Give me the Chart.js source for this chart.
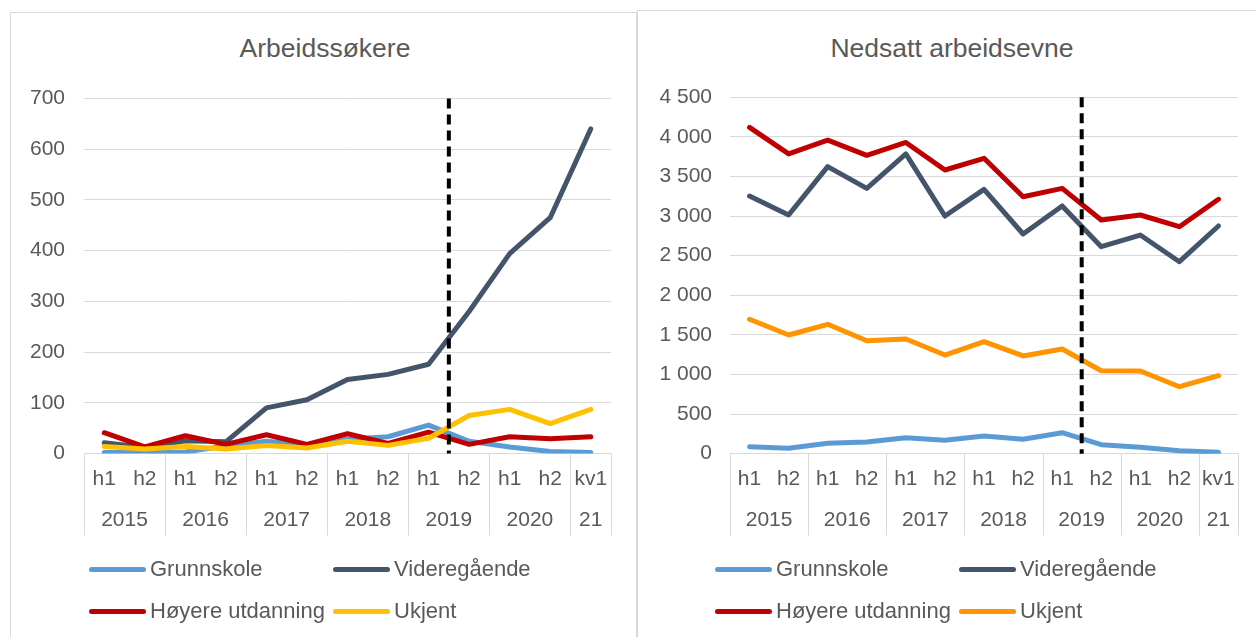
<!DOCTYPE html>
<html>
<head>
<meta charset="utf-8">
<script src="https://cdn.jsdelivr.net/npm/chart.js@4/dist/chart.umd.min.js"></script>
<style>
  html, body { margin: 0; padding: 0; background: #fff; overflow: hidden; }
  body { width: 1256px; height: 637px; position: relative; font-family: 'Liberation Sans', Arial, sans-serif; color: #595959; }
  .box { position: absolute; border: 1px solid #d9d9d9; box-sizing: border-box; }
  canvas { position: absolute; }
  .title { position: absolute; width: 500px; text-align: center; font-size: 26.5px; line-height: 30px; }
  .lg-line { position: absolute; height: 5px; width: 57px; border-radius: 3px; }
  .lg-text { position: absolute; font-size: 22px; line-height: 24px; white-space: nowrap; }
</style>
</head>
<body>
<div class="box" style="left:10px;top:12px;width:627px;height:700px"></div>
<div class="box" style="left:637px;top:10px;width:700px;height:700px"></div>

<div class="title" style="left:75px;top:33px">Arbeidssøkere</div>
<div class="title" style="left:702px;top:33px">Nedsatt arbeidsevne</div>

<canvas id="c1" width="626" height="624" style="left:10px;top:13px;width:626px;height:624px"></canvas>
<canvas id="c2" width="619" height="627" style="left:637px;top:10px;width:619px;height:627px"></canvas>

<div id="lg1"></div>
<div id="lg2"></div>

<script>
// ── Data ─────────────────────────────────────────────────────────────────────
const categories = ['h1', 'h2', 'h1', 'h2', 'h1', 'h2', 'h1', 'h2', 'h1', 'h2', 'h1', 'h2', 'kv1']
const years      = ['2015', '2016', '2017', '2018', '2019', '2020', '21']
const yearSpan   = [2, 2, 2, 2, 2, 2, 1]
const splitAt    = 9   // dashed line sits before this category

const seriesNames = ['Grunnskole', 'Videregående', 'Høyere utdanning', 'Ukjent']

// Arbeidssøkere
const grunnSoker   = [2, 2, 3, 15, 24, 17, 28, 33, 56, 24, 13, 4, 2]
const videreSoker  = [21, 12, 25, 23, 90, 106, 146, 156, 176, 280, 394, 465, 640]
const hoyereSoker  = [41, 13, 35, 18, 37, 18, 39, 20, 42, 18, 33, 29, 33]
const ukjentSoker  = [14, 9, 14, 9, 16, 11, 24, 16, 30, 75, 87, 59, 87]

// Nedsatt arbeidsevne
const grunnNedsatt  = [88, 68, 131, 148, 202, 169, 223, 182, 265, 114, 81, 38, 18]
const videreNedsatt = [3254, 3014, 3624, 3350, 3785, 3001, 3338, 2774, 3128, 2614, 2761, 2424, 2875]
const hoyereNedsatt = [4120, 3785, 3960, 3767, 3930, 3582, 3730, 3245, 3350, 2950, 3014, 2866, 3212]
const ukjentNedsatt = [1697, 1499, 1634, 1427, 1448, 1246, 1414, 1234, 1322, 1048, 1044, 846, 985]

const TEXT = '#595959'
const GRID = '#d9d9d9'
const FONT = "'Liberation Sans', Arial, sans-serif"

// ── Two-level category axis + dashed divider ────────────────────────────────
const groupAxis = {
    id: 'groupAxis',
    afterDraw(chart) {
        const { ctx, chartArea: a, scales: { x } } = chart
        const w = (a.right - a.left) / categories.length
        const edge = k => a.left + k * w
        ctx.save()
        ctx.strokeStyle = GRID
        ctx.lineWidth = 1
        let k = 0
        const bounds = [0]
        yearSpan.forEach(s => { k += s; bounds.push(k) })
        bounds.forEach(b => {
            const px = Math.round(edge(b)) + 0.5
            ctx.beginPath()
            ctx.moveTo(px, a.bottom)
            ctx.lineTo(px, a.bottom + 82)
            ctx.stroke()
        })
        ctx.fillStyle = TEXT
        ctx.font = `21px ${FONT}`
        ctx.textAlign = 'center'
        ctx.textBaseline = 'middle'
        categories.forEach((c, i) => ctx.fillText(c, x.getPixelForValue(i), a.bottom + 26))
        years.forEach((y, i) => {
            const mid = (edge(bounds[i]) + edge(bounds[i + 1])) / 2
            ctx.fillText(y, mid, a.bottom + 67)
        })
        ctx.restore()
    },
    afterDatasetsDraw(chart) {
        const { ctx, chartArea: a } = chart
        const px = (chart.scales.x.getPixelForValue(splitAt - 1) + chart.scales.x.getPixelForValue(splitAt)) / 2
        ctx.save()
        ctx.strokeStyle = '#000'
        ctx.lineWidth = 4
        ctx.setLineDash([10, 6])
        ctx.beginPath()
        ctx.moveTo(px, a.top)
        ctx.lineTo(px, a.bottom)
        ctx.stroke()
        ctx.restore()
    },
}

const fmt = v => String(v).replace(/\B(?=(\d{3})+(?!\d))/g, ' ')

function buildChart(id, data, colors, yMax, yStep, geo) {
    return new Chart(document.getElementById(id), {
        type: 'line',
        data: {
            labels: categories,
            datasets: data.map((d, i) => ({
                label: seriesNames[i],
                data: d,
                borderColor: colors[i],
                backgroundColor: colors[i],
                borderWidth: 5,
                pointRadius: 0,
                tension: 0,
                borderJoinStyle: 'round',
                borderCapStyle: 'round',
                order: data.length - i,
            })),
        },
        options: {
            responsive: false,
            animation: false,
            layout: { padding: { top: geo.top, bottom: geo.bottom, left: 0, right: geo.right } },
            plugins: { legend: { display: false }, tooltip: { enabled: false } },
            scales: {
                x: {
                    offset: true,
                    grid: { display: false, drawTicks: false },
                    border: { color: GRID, width: 1 },
                    ticks: { display: false },
                    afterFit: s => { s.height = 0 },
                },
                y: {
                    min: 0,
                    max: yMax,
                    ticks: { stepSize: yStep, padding: geo.tickPad, color: TEXT, font: { family: FONT, size: 21 }, callback: fmt },
                    grid: { color: GRID, drawTicks: false, lineWidth: 1 },
                    border: { display: false },
                    afterFit: s => { s.width = geo.yWidth },
                },
            },
        },
        plugins: [groupAxis],
    })
}

const colorsLeft  = ['#5b9bd5', '#44546a', '#c00000', '#ffc000']
const colorsRight = ['#5b9bd5', '#44546a', '#c00000', '#ff9300']

buildChart('c1', [grunnSoker, videreSoker, hoyereSoker, ukjentSoker], colorsLeft, 700, 100,
    { top: 85.5, bottom: 183.5, right: 25, yWidth: 74, tickPad: 19 })
buildChart('c2', [grunnNedsatt, videreNedsatt, hoyereNedsatt, ukjentNedsatt], colorsRight, 4500, 500,
    { top: 87.3, bottom: 183.3, right: 18, yWidth: 93, tickPad: 18 })

// ── Legends (two rows, two columns, Excel style) ────────────────────────────
function buildLegend(id, colors, cols) {
    const el = document.getElementById(id)
    const rows = [569, 611]
    seriesNames.forEach((name, i) => {
        const cy = rows[Math.floor(i / 2)]
        const lx = cols[i % 2]
        const line = document.createElement('div')
        line.className = 'lg-line'
        line.style.cssText = `left:${lx}px;top:${cy - 2.5}px;background:${colors[i]}`
        const txt = document.createElement('div')
        txt.className = 'lg-text'
        txt.style.cssText = `left:${lx + 61}px;top:${cy - 12}px`
        txt.textContent = name
        el.appendChild(line)
        el.appendChild(txt)
    })
}
buildLegend('lg1', colorsLeft, [89, 333])
buildLegend('lg2', colorsRight, [715, 959])
</script>
</body>
</html>
